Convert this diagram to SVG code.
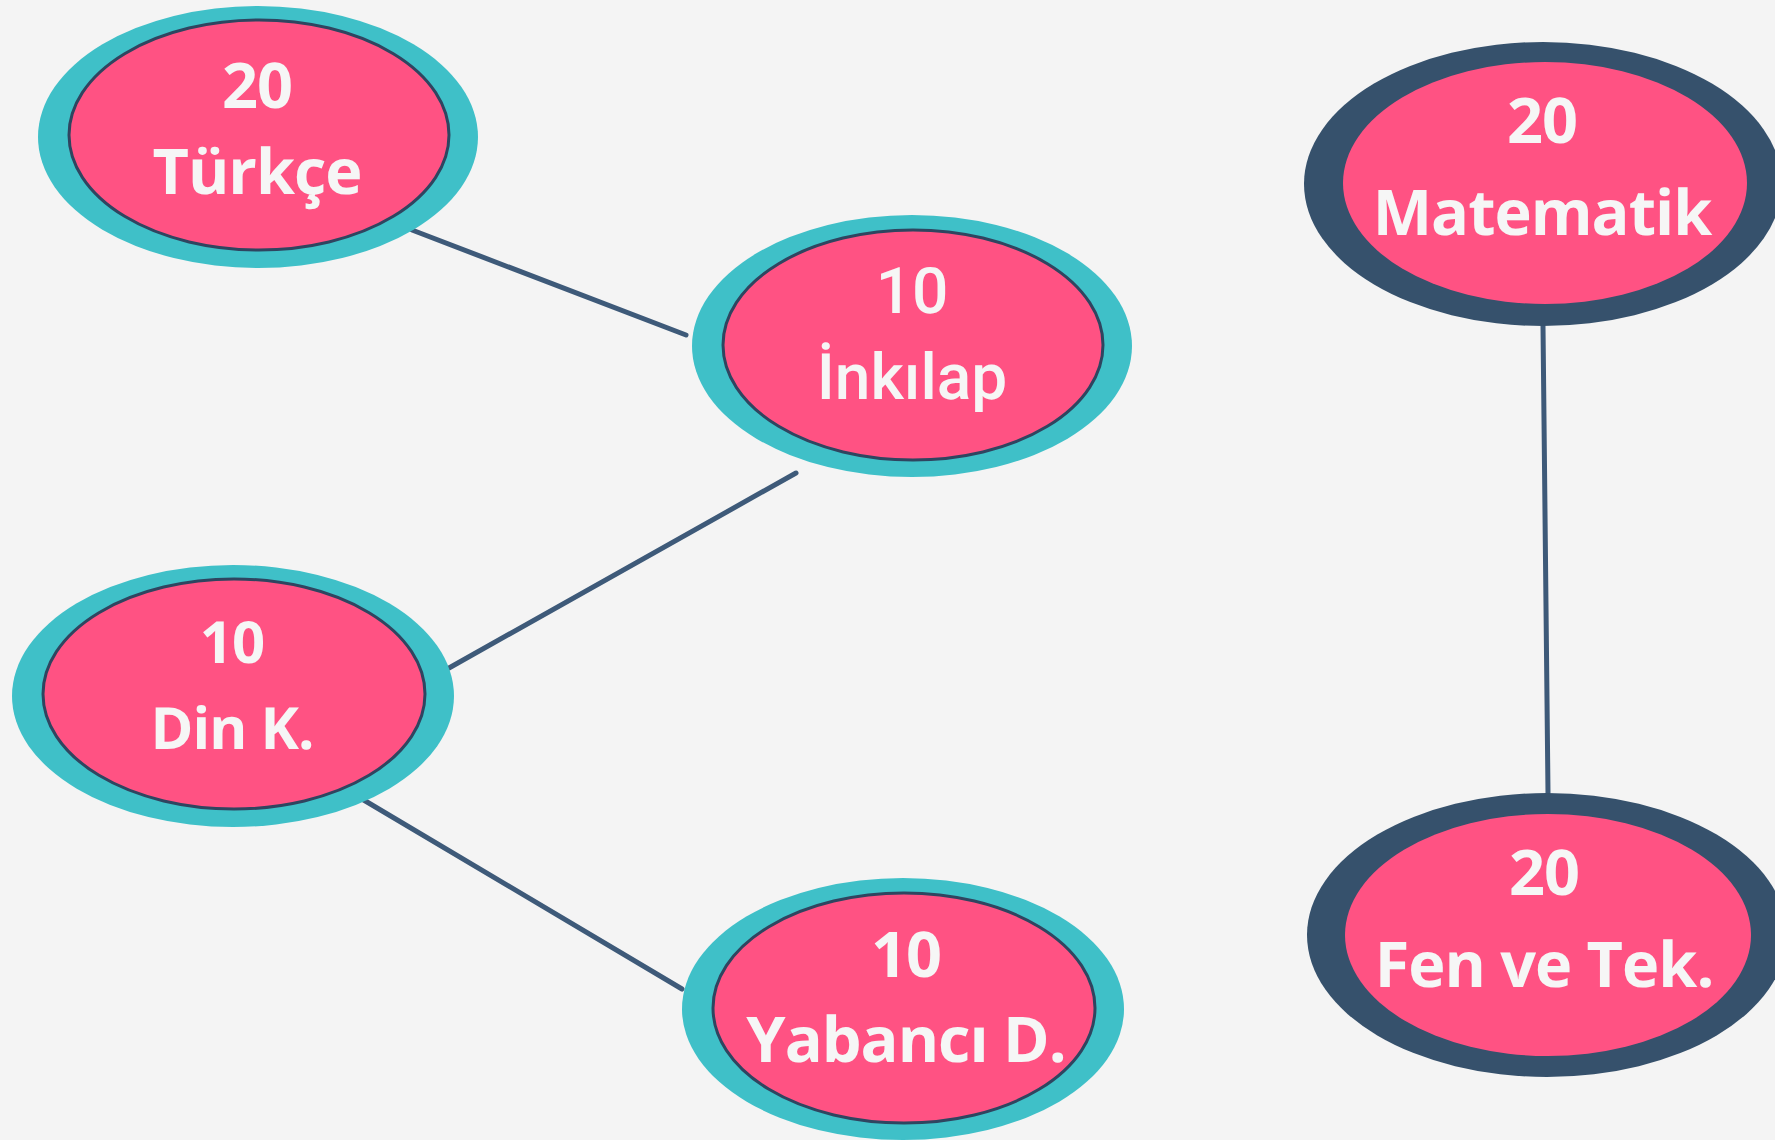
<svg xmlns="http://www.w3.org/2000/svg" width="1775" height="1140" viewBox="0 0 1775 1140">
<style>
.bg{fill:#f4f4f4}
.ring{fill:#3fc0c8}
.ringd{fill:#36516c}
.core{fill:#ff5283;stroke:#2f4560;stroke-width:3}
.cored{fill:#ff5283}
.lbl{font-family:"Open Sans","Liberation Sans",sans-serif;font-weight:700;font-size:63px;fill:#f6f6f6;text-anchor:middle;text-rendering:geometricPrecision;letter-spacing:-1px}
.rob{font-family:Roboto,"Liberation Sans",sans-serif;font-weight:500;font-size:64px;letter-spacing:0}
.sm{font-size:58px}
.edge{stroke:#3e5a79;stroke-width:5;stroke-linecap:round;fill:none}
</style>
<rect class="bg" x="0" y="0" width="1775" height="1140"/>
<g id="connectors">
<line class="edge" x1="412" y1="230" x2="686" y2="335"/>
<line class="edge" x1="796" y1="473" x2="449" y2="668"/>
<line class="edge" x1="362" y1="799" x2="682" y2="989"/>
<line class="edge" x1="1543" y1="326" x2="1548" y2="793"/>
</g>
<g id="turkce">
<ellipse class="ring" cx="258" cy="137" rx="220" ry="131"/>
<ellipse class="core" cx="259" cy="135" rx="190" ry="115"/>
<text class="lbl" x="257" y="108">20</text>
<text class="lbl" x="257" y="194">Türkçe</text>
</g>
<g id="inkilap">
<ellipse class="ring" cx="912" cy="346" rx="220" ry="131"/>
<ellipse class="core" cx="913" cy="345" rx="190" ry="115"/>
<text class="lbl rob" x="912" y="313">10</text>
<text class="lbl rob" x="912" y="399">İnkılap</text>
</g>
<g id="matematik">
<ellipse class="ringd" cx="1543" cy="184" rx="239" ry="142"/>
<ellipse class="cored" cx="1545" cy="183" rx="202" ry="121"/>
<text class="lbl" x="1542" y="143">20</text>
<text class="lbl" x="1542" y="235">Matematik</text>
</g>
<g id="dink">
<ellipse class="ring" cx="233" cy="696" rx="221" ry="131"/>
<ellipse class="core" cx="234" cy="694" rx="191" ry="115"/>
<text class="lbl sm" x="232" y="663">10</text>
<text class="lbl sm" x="232" y="749">Din K.</text>
</g>
<g id="yabanci">
<ellipse class="ring" cx="903" cy="1009" rx="221" ry="131"/>
<ellipse class="core" cx="904" cy="1008" rx="191" ry="115"/>
<text class="lbl" x="906" y="977">10</text>
<text class="lbl" x="906" y="1062">Yabancı D.</text>
</g>
<g id="fenvetek">
<ellipse class="ringd" cx="1547" cy="935" rx="240" ry="142"/>
<ellipse class="cored" cx="1548" cy="935" rx="203" ry="121"/>
<text class="lbl" x="1544" y="895">20</text>
<text class="lbl" x="1544" y="987">Fen ve Tek.</text>
</g>
</svg>
